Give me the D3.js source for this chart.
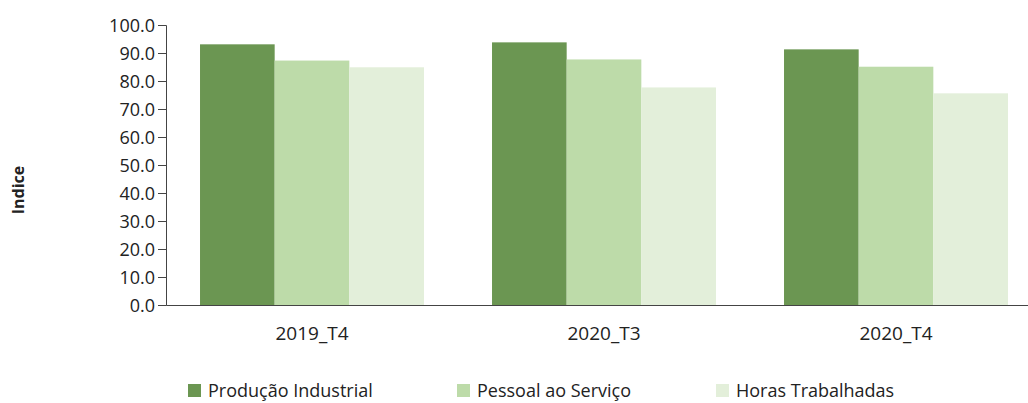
<!DOCTYPE html>
<html><head><meta charset="utf-8">
<script src="https://cdn.jsdelivr.net/npm/d3@7"></script>
<style>body{margin:0;background:#fff}svg{display:block}text{font-family:"Open Sans",sans-serif;fill:#222}</style>
</head><body>
<svg id="c" width="1028" height="403"></svg>
<script>
const categories = ["2019_T4", "2020_T3", "2020_T4"];
const seriesNames = ["Produção Industrial", "Pessoal ao Serviço", "Horas Trabalhadas"];
const producaoIndustrial = [93.1, 93.8, 91.3];
const pessoalServico = [87.3, 87.7, 85.1];
const horasTrabalhadas = [84.9, 77.7, 75.6];
const yTicks = [0, 10, 20, 30, 40, 50, 60, 70, 80, 90, 100];
const colors = ["#6b9652", "#bddba9", "#e3efda"];

const series = [producaoIndustrial, pessoalServico, horasTrabalhadas];
const svg = d3.select("#c");
const x0 = d3.scaleBand().domain(categories).range([166, 1042]).paddingInner(0.233).paddingOuter(0.1165);
const x1 = d3.scaleBand().domain(seriesNames).range([0, x0.bandwidth()]);
const y = d3.scaleLinear().domain([0, 100]).range([305, 25]);

categories.forEach((c, ci) => {
  seriesNames.forEach((s, si) => {
    svg.append("rect")
      .attr("x", x0(c) + x1(s))
      .attr("y", y(series[si][ci]))
      .attr("width", x1.bandwidth())
      .attr("height", y(0) - y(series[si][ci]))
      .attr("fill", colors[si]);
  });
});

const yAxis = svg.append("g").attr("transform", "translate(166,0)")
  .call(d3.axisLeft(y).tickValues(yTicks).tickFormat(d3.format(".1f")).tickSize(8).tickSizeOuter(8));
yAxis.selectAll("text").style("font-size", "18px").attr("x", -11).attr("dy", "0.34em").attr("fill", "#222");
yAxis.selectAll("line, path").attr("stroke", "#444");

const xAxis = svg.append("g").attr("transform", "translate(0,305)")
  .call(d3.axisBottom(x0).tickSize(0).tickSizeOuter(0));
xAxis.selectAll("text").style("font-size", "19px").attr("dy", "0").attr("y", 35).attr("fill", "#222");
xAxis.select("path").attr("stroke", "#444");

svg.append("text").attr("transform", "translate(24,190) rotate(-90)")
  .attr("text-anchor", "middle").style("font-size", "16px").style("font-weight", "bold").text("Indice");

const legX = [188, 457, 716];
seriesNames.forEach((s, i) => {
  svg.append("rect").attr("x", legX[i]).attr("y", 384).attr("width", 13).attr("height", 13).attr("fill", colors[i]);
  svg.append("text").attr("x", legX[i] + 20).attr("y", 397).style("font-size", "18px").text(s);
});
</script>
</body></html>
